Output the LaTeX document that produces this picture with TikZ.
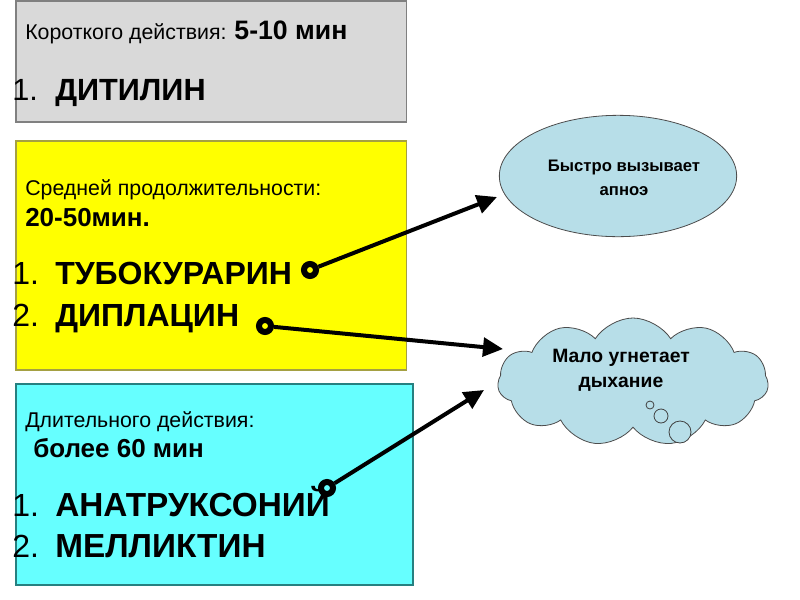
\documentclass[tikz,border=0pt]{standalone}
\usepackage{fontspec}
\setmainfont{Liberation Sans}
\usetikzlibrary{arrows.meta,shapes.geometric,shapes.symbols}
\definecolor{boxgray}{HTML}{D9D9D9}
\definecolor{boxyellow}{HTML}{FFFF00}
\definecolor{boxcyan}{HTML}{66FFFF}
\definecolor{bubble}{HTML}{B7DEE8}
\begin{document}
\begin{tikzpicture}[x=0.75pt,y=-0.75pt,
  panel/.style={draw=#1, line width=1.2pt, anchor=north west, inner sep=0pt},
  lbl/.style={anchor=base west, inner sep=0pt, font=\fontsize{16}{19}\selectfont},
  sub/.style={anchor=base west, inner sep=0pt, font=\fontsize{19.5}{22}\selectfont\bfseries},
  item/.style={anchor=base west, inner sep=0pt, font=\fontsize{24}{28}\selectfont\bfseries},
  num/.style={anchor=base west, inner sep=0pt, font=\fontsize{24}{28}\selectfont},
  dot/.style={circle, draw=black, line width=4.5pt, minimum size=9pt, inner sep=0pt},
  conn/.style={line width=3pt, -{Triangle[length=15pt, width=14pt]}},
  puff/.style={circle, draw=black!75, fill=bubble, line width=0.6pt, inner sep=0pt}]
\useasboundingbox (0,0) rectangle (800,600);
% panels
\node[panel=gray, fill=boxgray, minimum width=293pt, minimum height=91pt] (p1) at (15,0) {};
\node[panel=black!40!yellow, fill=boxyellow, minimum width=293pt, minimum height=172pt] (p2) at (15,140) {};
\node[panel=teal!70!gray, fill=boxcyan, minimum width=298pt, minimum height=151pt] (p3) at (15,383) {};
% gray panel text
\node[lbl] (t1) at (25,39) {Короткого действия: {\fontsize{20}{22}\selectfont\bfseries 5-10 мин}};
\node[num, font=\fontsize{23}{27}\selectfont] (n11) at (12,100) {1.};
\node[item, font=\fontsize{23}{27}\selectfont\bfseries] (i11) at (55,100) {ДИТИЛИН};
% yellow panel text
\node[lbl] (t2) at (25,195) {Средней продолжительности:};
\node[sub] (t2b) at (25,226) {20-50мин.};
\node[num] (n21) at (12,284) {1.};
\node[item] (i21) at (55,284) {ТУБОКУРАРИН};
\node[num] (n22) at (12,326) {2.};
\node[item] (i22) at (55,326) {ДИПЛАЦИН};
% cyan panel text
\node[lbl] (t3) at (25,427) {Длительного действия:};
\node[sub] (t3b) at (33,457) {более 60 мин};
\node[num] (n31) at (12,516) {1.};
\node[item, font=\fontsize{25}{29}\selectfont\bfseries] (i31) at (55,516) {АНАТРУКСОНИЙ};
\node[num] (n32) at (12,557) {2.};
\node[item, font=\fontsize{25}{29}\selectfont\bfseries] (i32) at (55,557) {МЕЛЛИКТИН};
% ellipse
\node[ellipse, draw=black!70, line width=0.6pt, fill=bubble, minimum width=178pt, minimum height=91pt] (e1) at (618,176) {};
\node[align=center, font=\fontsize{12.5}{18.5}\selectfont\bfseries] (e1t) at (624,178) {Быстро вызывает\\апноэ};
% cloud
\node[cloud, cloud puffs=11, cloud puff arc=115, aspect=2.2, draw=black!70, line width=0.6pt, fill=bubble, minimum width=203pt, minimum height=96pt] (c1) at (633,382) {};
\node[align=center, font=\fontsize{14.5}{19}\selectfont\bfseries] (c1t) at (621,370) {Мало угнетает\\дыхание};
\node[puff, minimum size=6pt] (b1) at (650,405) {};
\node[puff, minimum size=10.5pt] (b2) at (661,416) {};
\node[puff, minimum size=16.5pt] (b3) at (680,432) {};
% connectors
\node[dot, fill=boxyellow] (s1) at (310,270) {};
\node[dot, fill=boxyellow] (s2) at (265,326) {};
\node[dot, fill=boxcyan] (s3) at (327,488) {};
\coordinate (a1) at (497,197);
\coordinate (a2) at (503,349);
\coordinate (a3) at (484,390);
\draw[conn] (s1) -- (a1);
\draw[conn] (s2) -- (a2);
\draw[conn] (s3) -- (a3);
\end{tikzpicture}
\end{document}
